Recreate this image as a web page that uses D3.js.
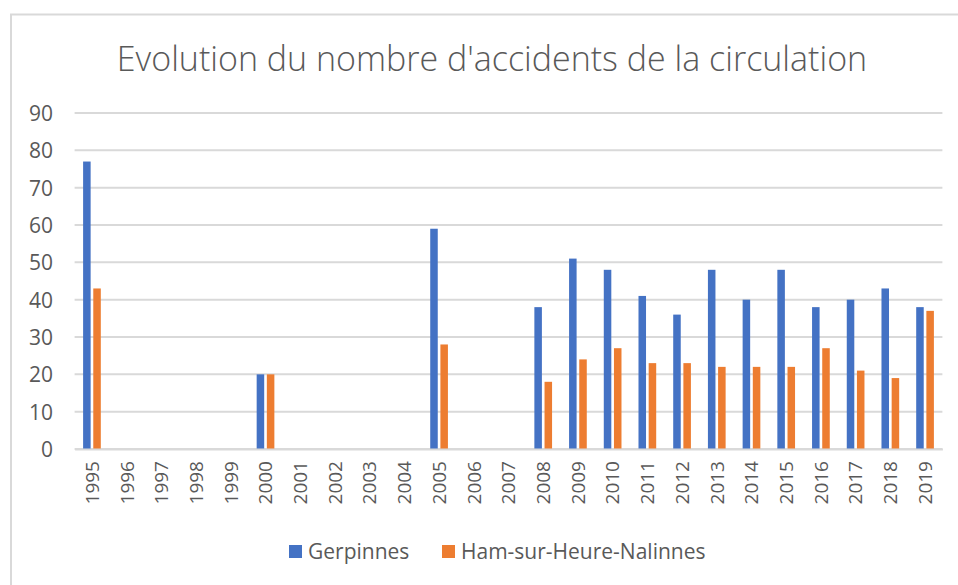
<!DOCTYPE html>
<html>
<head>
<meta charset="utf-8">
<script src="https://cdn.jsdelivr.net/npm/d3@7"></script>
<style>
  html, body { margin: 0; padding: 0; background: #fff; }
  svg { display: block; }
</style>
</head>
<body>
<svg id="chart" width="958" height="585"></svg>
<script>
// Years on the category axis
const years = ["1995","1996","1997","1998","1999","2000","2001","2002","2003","2004",
  "2005","2006","2007","2008","2009","2010","2011","2012","2013","2014",
  "2015","2016","2017","2018","2019"];

// Number of road accidents per municipality (null = no data for that year)
const gerpinnes = [77,null,null,null,null,20,null,null,null,null,
  59,null,null,38,51,48,41,36,48,40,
  48,38,40,43,38];
const hamSurHeure = [43,null,null,null,null,20,null,null,null,null,
  28,null,null,18,24,27,23,23,22,22,
  22,27,21,19,37];

const seriesNames = ["Gerpinnes", "Ham-sur-Heure-Nalinnes"];
const seriesColors = ["#4472C4", "#ED7D31"];
const yTicks = [0,10,20,30,40,50,60,70,80,90];
const title = "Evolution du nombre d'accidents de la circulation";

const svg = d3.select("#chart");
const font = "'Open Sans', 'Liberation Sans', sans-serif";
const textColor = "#595959";

// chart frame
svg.append("rect")
  .attr("x", 11).attr("y", 14.5)
  .attr("width", 1000).attr("height", 1000)
  .attr("fill", "none").attr("stroke", "#d9d9d9").attr("stroke-width", 2);

const plot = { left: 74.6, right: 942.4, top: 113, bottom: 449 };

const x0 = d3.scaleBand().domain(years).range([plot.left, plot.right]).padding(0);
const step = x0.step();
const groupW = 17.7;
const x1 = d3.scaleBand().domain(seriesNames)
  .range([step / 2 - groupW / 2, step / 2 + groupW / 2])
  .paddingInner(0.26).paddingOuter(0);
const y = d3.scaleLinear().domain([0, 90]).range([plot.bottom, plot.top]);

// gridlines
svg.append("g").selectAll("line").data(yTicks).join("line")
  .attr("x1", plot.left).attr("x2", plot.right)
  .attr("y1", d => y(d)).attr("y2", d => y(d))
  .attr("stroke", "#d9d9d9").attr("stroke-width", 2);

// y axis labels
const yAxis = d3.axisLeft(y).tickValues(yTicks).tickSize(0).tickPadding(0);
const yg = svg.append("g").attr("transform", `translate(${53},0)`).call(yAxis);
yg.select(".domain").remove();
yg.selectAll("text")
  .attr("font-family", font).attr("font-size", 21).attr("fill", textColor)
  .attr("dy", "0.36em");

// bars
const rows = years.map((yr, i) => ({ year: yr, values: [gerpinnes[i], hamSurHeure[i]] }));
const groups = svg.append("g").selectAll("g").data(rows).join("g")
  .attr("transform", d => `translate(${x0(d.year)},0)`);
groups.selectAll("rect")
  .data(d => d.values.map((v, k) => ({ name: seriesNames[k], v, k })).filter(e => e.v != null))
  .join("rect")
  .attr("x", d => x1(d.name))
  .attr("width", x1.bandwidth())
  .attr("y", d => y(d.v))
  .attr("height", d => y(0) - y(d.v))
  .attr("fill", d => seriesColors[d.k]);

// x axis
const xAxis = d3.axisBottom(x0).tickSize(0).tickPadding(0);
const xg = svg.append("g").attr("transform", `translate(0,${plot.bottom})`).call(xAxis);
xg.select(".domain").attr("stroke", "#d9d9d9").attr("stroke-width", 2);
xg.selectAll("text")
  .attr("font-family", font).attr("font-size", 19).attr("fill", textColor)
  .attr("text-anchor", "end")
  .attr("transform", "rotate(-90)")
  .attr("x", -12).attr("y", 0).attr("dy", "0.36em");

// title
svg.append("text")
  .attr("x", 492).attr("y", 71)
  .attr("text-anchor", "middle")
  .attr("font-family", font).attr("font-weight", 300).attr("font-size", 34)
  .attr("fill", textColor)
  .text(title);

// legend
const legend = svg.append("g");
const legendItems = [{ x: 289, name: seriesNames[0], c: seriesColors[0] },
                     { x: 442, name: seriesNames[1], c: seriesColors[1] }];
legendItems.forEach(it => {
  legend.append("rect").attr("x", it.x).attr("y", 545).attr("width", 13).attr("height", 13).attr("fill", it.c);
  legend.append("text").attr("x", it.x + 19).attr("y", 559)
    .attr("font-family", font).attr("font-size", 21).attr("fill", textColor)
    .text(it.name);
});
</script>
</body>
</html>
